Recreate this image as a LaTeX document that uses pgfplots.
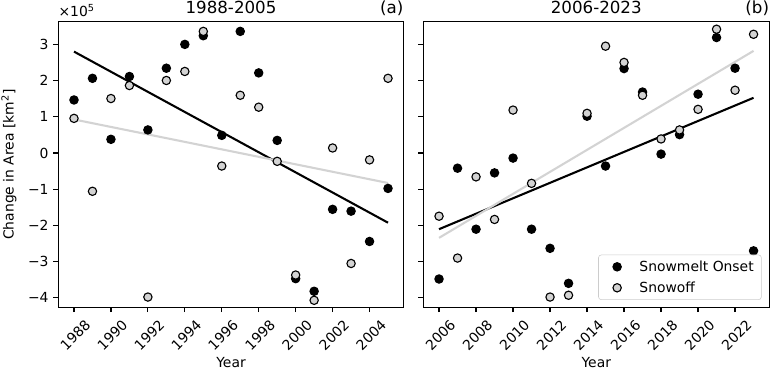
\documentclass[border=0pt]{standalone}
\usepackage{fontspec}
\setmainfont{DejaVu Sans}
\usepackage{pgfplots}
\usepackage{pgfplotstable}
\pgfplotsset{compat=1.18}

\definecolor{snowoff}{HTML}{D3D3D3}

% values in units of 1e5 km^2
\pgfplotstableread{
year onset snowoff
1988  1.47  0.96
1989  2.07 -1.06
1990  0.38  1.51
1991  2.12  1.87
1992  0.64 -3.99
1993  2.35  2.01
1994  3.01  2.26
1995  3.25  3.37
1996  0.49 -0.36
1997  3.37  1.60
1998  2.22  1.27
1999  0.35 -0.23
2000 -3.48 -3.38
2001 -3.83 -4.08
2002 -1.56  0.14
2003 -1.61 -3.06
2004 -2.45 -0.19
2005 -0.98  2.07
}\early

\pgfplotstableread{
year onset snowoff
2006 -3.49 -1.75
2007 -0.42 -2.91
2008 -2.11 -0.66
2009 -0.55 -1.84
2010 -0.14  1.19
2011 -2.11 -0.84
2012 -2.64 -3.99
2013 -3.61 -3.94
2014  1.02  1.10
2015 -0.36  2.96
2016  2.34  2.51
2017  1.69  1.60
2018 -0.03  0.39
2019  0.51  0.64
2020  1.63  1.21
2021  3.20  3.43
2022  2.35  1.74
2023 -2.71  3.29
}\late

\pgfplotsset{
  panel/.style={
    scale only axis, height=205.6pt,
    ymin=-4.274, ymax=3.637,
    axis line style={line width=0.8pt},
    tick align=outside, major tick length=3.5pt,
    every tick/.style={black, line width=0.8pt},
    xtick pos=bottom, ytick pos=left,
    ytick={-4,...,3},
    /pgf/number format/assume math mode=true,
    /pgf/number format/1000 sep={},
    xticklabel style={yshift=-16.5pt, xshift=1pt, rotate=45, anchor=center},
    xlabel=Year,
    xlabel style={at={(axis description cs:0.5,0)}, anchor=center, yshift=-39.9pt},
    title style={at={(axis description cs:0.5,1)}, anchor=base,
                 font=\fontsize{12}{14}\selectfont},
    clip=false,
  },
  onsetmark/.style={only marks, mark=*, mark size=3pt,
                    mark options={draw=black, fill=black, line width=0.8pt}},
  offmark/.style={only marks, mark=*, mark size=3pt,
                  mark options={draw=black, fill=snowoff, line width=0.8pt}},
}

\begin{document}
\begin{tikzpicture}
\useasboundingbox (-41.98pt,-43.70pt) rectangle (513.14pt,221.26pt);

\begin{axis}[panel, width=248.7pt,
  xmin=1987.15, xmax=2005.85,
  xtick={1988,1990,...,2004},
  yticklabels={−4,−3,−2,−1,0,1,2,3},
  ylabel={Change in Area [km\textsuperscript{2}]},
  ylabel style={at={(axis description cs:-0.1427,0.5)}, anchor=center},
  title={1988-2005}]
\addplot[onsetmark] table[x=year, y=onset] {\early};
\addplot[offmark] table[x=year, y=snowoff] {\early};
\addplot[black, line width=1.5pt] coordinates {(1988,2.81) (2005,-1.93)};
\addplot[snowoff, line width=1.5pt] coordinates {(1988,0.93) (2005,-0.83)};
\node[anchor=base west, inner sep=0pt] at (rel axis cs:0,1) [yshift=4.1pt] {×10\textsuperscript{5}};
\node[anchor=base east, inner sep=0pt, font=\fontsize{12}{14}\selectfont] at (rel axis cs:1,1) [yshift=6pt] {(a)};
\end{axis}

\begin{axis}[panel, width=249.1pt, xshift=262.8pt,
  xmin=2005.15, xmax=2023.85,
  xtick={2006,2008,...,2022},
  yticklabels={},
  title={2006-2023},
  legend cell align=left,
  legend style={at={(axis description cs:1,0)}, anchor=south east,
    xshift=-5.5pt, yshift=5.3pt, draw=black!20, rounded corners=2pt,
    fill=white, fill opacity=0.8, text opacity=1,
    inner xsep=4pt, inner ysep=2.5pt, row sep=3pt,
    nodes={inner sep=1.5pt}},
  legend image code/.code={\path[draw=none, fill=none] (0pt,0pt) -- (24pt,0pt);
    \path[#1, draw=none, fill=none, fill opacity=1, draw opacity=1]
      plot[only marks] coordinates {(9.4pt,0pt)};}]
\addplot[onsetmark] table[x=year, y=onset] {\late};
\addlegendentry{Snowmelt Onset}
\addplot[offmark] table[x=year, y=snowoff] {\late};
\addlegendentry{Snowoff}
\addplot[black, line width=1.5pt, forget plot] coordinates {(2006,-2.11) (2023,1.53)};
\addplot[snowoff, line width=1.5pt, forget plot] coordinates {(2006,-2.35) (2023,2.83)};
\node[anchor=base east, inner sep=0pt, font=\fontsize{12}{14}\selectfont] at (rel axis cs:1,1) [yshift=6pt] {(b)};
\end{axis}
\end{tikzpicture}
\end{document}
